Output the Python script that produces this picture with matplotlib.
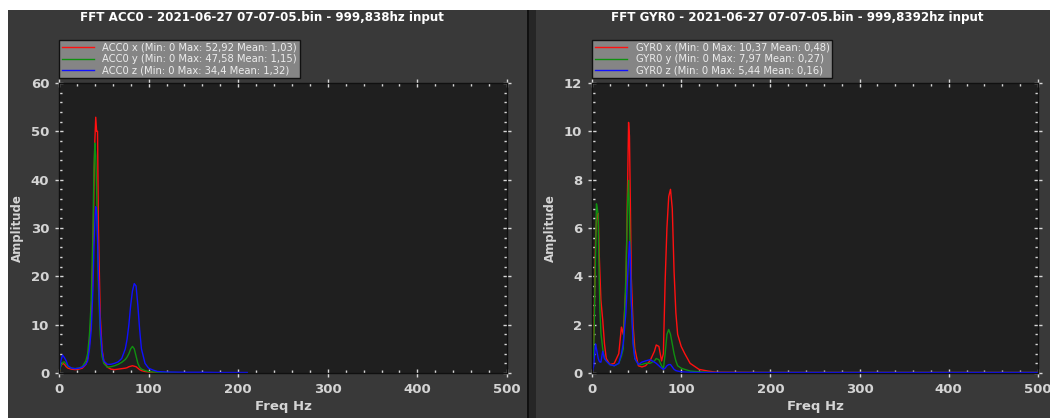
import matplotlib
matplotlib.use("Agg")
import matplotlib.pyplot as plt
from matplotlib.patches import Rectangle
from matplotlib.ticker import MultipleLocator

# ---------------- data ----------------
acc_freq = [0, 2, 4, 6, 8, 10, 14, 18, 22, 26, 30, 32, 34, 36, 38, 39, 40, 41, 42, 43, 44,
            46, 48, 50, 54, 58, 62, 66, 70, 74, 76, 78, 80, 82, 84, 86, 88, 90, 92, 96, 100,
            105, 110, 120, 140, 160, 180, 200, 210]
acc_x = [0, 1.5, 2.0, 1.8, 1.3, 1.0, 0.8, 0.7, 0.8, 1.0, 1.8, 3.0, 6.0, 12, 25, 38, 48, 52.92, 50, 50, 30,
         12, 5, 2.5, 1.2, 0.8, 0.7, 0.8, 0.9, 1.0, 1.1, 1.3, 1.4, 1.5, 1.4, 1.3, 1.0, 0.7, 0.5, 0.3, 0.2,
         0.1, 0.1, 0.05, 0.05, 0.05, 0.05, 0.05, 0.05]
acc_y = [0, 1.5, 2.2, 2.3, 1.8, 1.3, 1.0, 0.9, 1.0, 1.3, 2.5, 4.0, 8.0, 15, 30, 42, 47.58, 45, 38, 28, 18,
         8, 3.5, 2.0, 1.2, 1.3, 1.5, 1.8, 2.2, 2.8, 3.3, 4.0, 5.0, 5.5, 5.0, 3.5, 2.0, 1.2, 0.8, 0.5, 0.3,
         0.2, 0.15, 0.1, 0.05, 0.05, 0.05, 0.05, 0.05]
acc_z = [0, 2.5, 3.7, 3.2, 2.5, 1.5, 1.0, 0.9, 1.0, 1.2, 1.8, 2.5, 5.0, 9.0, 18, 26, 31, 34.4, 33, 28, 20,
         10, 4.5, 2.5, 1.8, 1.8, 2.0, 2.3, 3.0, 5.0, 7.0, 10, 14, 17, 18.5, 18, 14, 9, 5, 2.0, 1.0,
         0.6, 0.3, 0.2, 0.15, 0.15, 0.1, 0.1, 0.1]

gyr_freq = [0, 2, 3, 4, 5, 6, 7, 8, 9, 10, 12, 14, 16, 20, 25, 30, 33, 35, 38, 40, 41, 42, 43, 44,
            46, 48, 52, 56, 60, 65, 70, 72, 75, 78, 80, 82, 84, 86, 88, 90, 92, 94, 96, 100, 104,
            110, 120, 130, 140, 200, 300, 400, 500]
gyr_x = [0, 1.5, 3.4, 5.5, 6.3, 6.5, 6.6, 5.0, 4.0, 3.0, 2.2, 1.2, 0.6, 0.35, 0.4, 0.8, 1.9, 1.6, 3.5, 8.0, 10.37, 9.8, 7.0, 4.0,
         2.0, 1.0, 0.3, 0.25, 0.3, 0.5, 0.9, 1.16, 1.1, 0.5, 0.8, 3.8, 6.0, 7.3, 7.6, 6.8, 4.2, 2.5, 1.6, 1.1, 0.8,
         0.4, 0.15, 0.08, 0.03, 0.02, 0.02, 0.02, 0.02]
gyr_y = [0, 1.0, 3.0, 5.0, 7.0, 6.8, 6.5, 4.0, 2.5, 1.65, 1.0, 0.6, 0.5, 0.35, 0.3, 0.4, 0.7, 1.0, 4.0, 7.2, 7.97, 6.5, 4.5, 3.0,
         1.5, 0.6, 0.35, 0.35, 0.4, 0.4, 0.5, 0.6, 0.55, 0.3, 0.15, 0.8, 1.6, 1.8, 1.6, 1.2, 0.8, 0.5, 0.3, 0.2, 0.15,
         0.08, 0.05, 0.03, 0.02, 0.02, 0.02, 0.02, 0.02]
gyr_z = [0, 0.3, 0.8, 1.2, 1.0, 0.8, 0.6, 0.5, 0.45, 0.45, 0.9, 0.6, 0.5, 0.35, 0.3, 0.4, 0.8, 1.2, 2.5, 4.0, 4.8, 5.44, 4.7, 3.0,
         1.2, 0.6, 0.35, 0.45, 0.5, 0.55, 0.45, 0.4, 0.3, 0.2, 0.15, 0.2, 0.3, 0.35, 0.35, 0.25, 0.15, 0.1, 0.08, 0.05, 0.04,
         0.03, 0.02, 0.02, 0.02, 0.02, 0.02, 0.02, 0.02]

acc_labels = ["ACC0 x (Min: 0 Max: 52,92 Mean: 1,03)",
              "ACC0 y (Min: 0 Max: 47,58 Mean: 1,15)",
              "ACC0 z (Min: 0 Max: 34,4 Mean: 1,32)"]
gyr_labels = ["GYR0 x (Min: 0 Max: 10,37 Mean: 0,48)",
              "GYR0 y (Min: 0 Max: 7,97 Mean: 0,27)",
              "GYR0 z (Min: 0 Max: 5,44 Mean: 0,16)"]
acc_title = "FFT ACC0 - 2021-06-27 07-07-05.bin - 999,838hz input"
gyr_title = "FFT GYR0 - 2021-06-27 07-07-05.bin - 999,8392hz input"

# ---------------- style ----------------
W, H = 1050, 418
PANEL = "#393939"
PLOTBG = "#1f1f1f"
TXT = "#d4d4d4"
COLORS = ["#ff1010", "#109010", "#1010ff"]
plt.rcParams["font.family"] = ["DejaVu Sans"]

fig = plt.figure(figsize=(W / 100, H / 100), dpi=100, facecolor="white")

def fx(px):
    return px / W

def fy(py):
    return 1 - py / H

# panels
fig.patches.append(Rectangle((fx(8), 0), fx(527) - fx(8), fy(10), transform=fig.transFigure,
                             facecolor=PANEL, edgecolor="none", zorder=-10))
fig.patches.append(Rectangle((fx(527), 0), fx(536) - fx(527), fy(10), transform=fig.transFigure,
                             facecolor="#262626", edgecolor="none", zorder=-10))
fig.patches.append(Rectangle((fx(527), 0), fx(529) - fx(527), fy(10), transform=fig.transFigure,
                             facecolor="#101010", edgecolor="none", zorder=-9))
fig.patches.append(Rectangle((fx(536), 0), 1 - fx(536), fy(10), transform=fig.transFigure,
                             facecolor=PANEL, edgecolor="none", zorder=-10))


def make_panel(x0, x1, freq, series, labels, title, ymax, ymajor, yminor, title_cx):
    ax = fig.add_axes([fx(x0), fy(373), fx(x1) - fx(x0), fy(83) - fy(373)])
    ax.set_facecolor(PLOTBG)
    for s, c, lab in zip(series, COLORS, labels):
        ax.plot(freq, s, color=c, lw=1.0, label=lab)
    ax.set_xlim(0, 500)
    ax.set_ylim(0, ymax)
    ax.xaxis.set_major_locator(MultipleLocator(100))
    ax.xaxis.set_minor_locator(MultipleLocator(20))
    ax.yaxis.set_major_locator(MultipleLocator(ymajor))
    ax.yaxis.set_minor_locator(MultipleLocator(yminor))
    ax.tick_params(which="major", direction="inout", length=6, width=1, color="#d8d8d8",
                   top=True, right=True, labelcolor=TXT, labelsize=9.5, pad=4)
    ax.tick_params(which="minor", direction="in", length=2.5, width=1, color="#d8d8d8",
                   top=True, right=True)
    for lbl in ax.get_xticklabels() + ax.get_yticklabels():
        lbl.set_fontweight("bold")
    for sp in ax.spines.values():
        sp.set_color("#101010")
        sp.set_linewidth(1)
    ax.set_ylabel("Amplitude", color=TXT, fontsize=8.5, fontweight="bold", labelpad=5)
    ax.set_xlabel("Freq Hz", color=TXT, fontsize=9.5, fontweight="bold", labelpad=3)
    leg = ax.legend(loc="lower left", bbox_to_anchor=(fx(x0), fy(78)), bbox_transform=fig.transFigure,
                    frameon=True, fancybox=False, framealpha=1, facecolor="#858585",
                    edgecolor="#111111", fontsize=7.2, handlelength=3.2, handletextpad=0.9,
                    borderpad=0.25, labelspacing=0.15, borderaxespad=0)
    for t in leg.get_texts():
        t.set_color("#ececec")
    leg.get_frame().set_linewidth(1)
    fig.text(fx(title_cx), fy(18), title, color="white", fontsize=8.6, fontweight="bold",
             ha="center", va="center")
    return ax


make_panel(59, 507, acc_freq, [acc_x, acc_y, acc_z], acc_labels, acc_title, 60, 10, 2, 262)
make_panel(592, 1038, gyr_freq, [gyr_x, gyr_y, gyr_z], gyr_labels, gyr_title, 12, 2, 0.4, 797)

fig.savefig("out.png", dpi=100, facecolor=fig.get_facecolor())
